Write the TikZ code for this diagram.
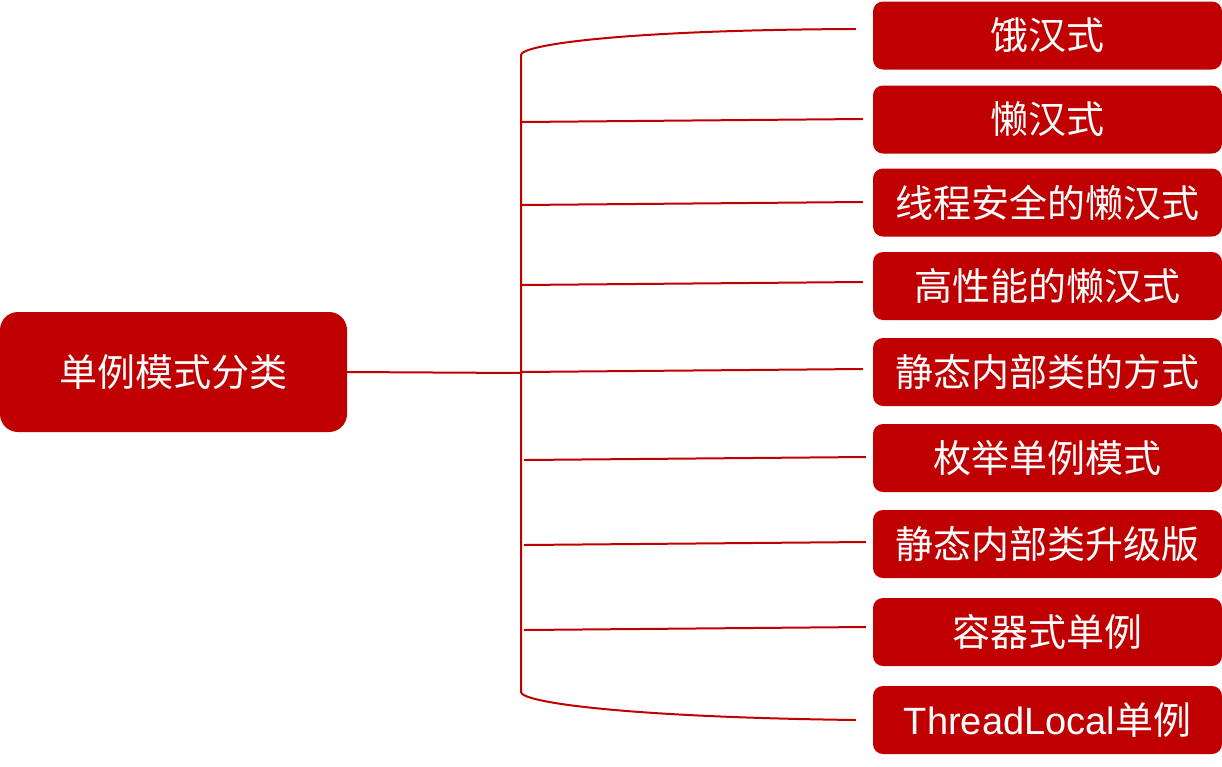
\documentclass[tikz,border=0pt]{standalone}
\usepackage{fontspec}
\usetikzlibrary{calc}
\setmainfont{Noto Sans CJK SC}
\newfontfamily\latinfont{Liberation Sans}
\definecolor{boxred}{RGB}{192,0,0}
\begin{document}
\begin{tikzpicture}[x=1pt,y=1pt,
  box/.style={fill=boxred,rounded corners=10pt,text=white,inner sep=0pt,
    font=\fontsize{38}{42}\selectfont},
  leaf/.style={box,minimum width=349pt,minimum height=68pt},
  conn/.style={draw=boxred,line width=2pt}]
\useasboundingbox (0,0) rectangle (1222,-766);
\node[box,rounded corners=18pt,minimum width=347pt,minimum height=120pt] (root) at (173.5,-372) {单例模式分类};
\node[leaf] (b1) at (1047.5,-35.5) {饿汉式};
\node[leaf] (b2) at (1047.5,-119.5) {懒汉式};
\node[leaf] (b3) at (1047.5,-202.5) {线程安全的懒汉式};
\node[leaf] (b4) at (1047.5,-286) {高性能的懒汉式};
\node[leaf] (b5) at (1047.5,-372) {静态内部类的方式};
\node[leaf] (b6) at (1047.5,-458) {枚举单例模式};
\node[leaf] (b7) at (1047.5,-544) {静态内部类升级版};
\node[leaf] (b8) at (1047.5,-632) {容器式单例};
\node[leaf] (b9) at (1047.5,-720) {{\latinfont ThreadLocal}单例};
\coordinate (top) at (521,-55);
\coordinate (bot) at (521,-692);
\draw[conn] (root.east) -- (521,-373);
\draw[conn] ($(b1.west)+(-17pt,6.5pt)$) .. controls (620,-30) and (521,-45) .. (top) -- (bot)
  .. controls (521,-702) and (620,-717) .. ($(b9.west)+(-17pt,0pt)$);
\draw[conn] (521,-122) -- ($(b2.west)+(-10pt,0.5pt)$);
\draw[conn] (521,-205) -- ($(b3.west)+(-10pt,0.5pt)$);
\draw[conn] (521,-285) -- ($(b4.west)+(-10pt,4pt)$);
\draw[conn] (521,-372) -- ($(b5.west)+(-10pt,3pt)$);
\draw[conn] (524,-460) -- ($(b6.west)+(-7pt,1pt)$);
\draw[conn] (524,-545) -- ($(b7.west)+(-7pt,2pt)$);
\draw[conn] (524,-630) -- ($(b8.west)+(-7pt,5pt)$);
\end{tikzpicture}
\end{document}
